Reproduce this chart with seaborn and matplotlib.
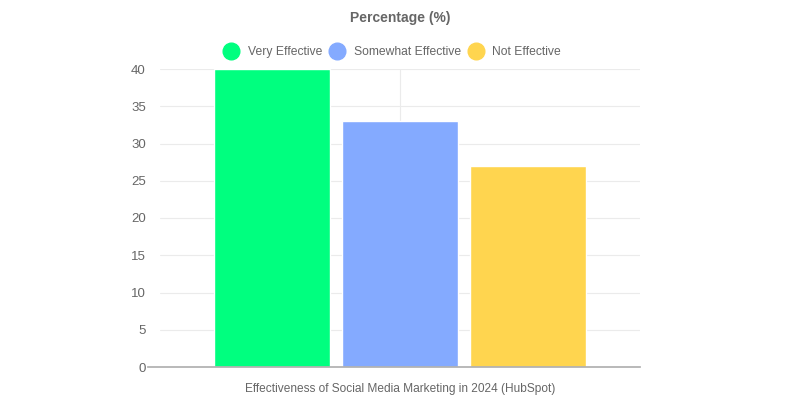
import numpy as np
import pandas as pd
import seaborn as sns
import matplotlib.pyplot as plt
from matplotlib.lines import Line2D

# chart data
category = "Effectiveness of Social Media Marketing in 2024 (HubSpot)"
series = ["Very Effective", "Somewhat Effective", "Not Effective"]
values = [40, 33, 27]
colors = ["#00ff7f", "#84aaff", "#ffd54f"]

df = pd.DataFrame({"cat": [category] * len(series), "series": series, "value": values})

sns.set_theme(style="white")
plt.rcParams['font.family'] = ['Liberation Sans', 'DejaVu Sans']

fig = plt.figure(figsize=(8, 4), dpi=100)
ax = fig.add_axes([0.2, 0.0825, 0.6, 0.745])

sns.barplot(data=df, x="cat", y="value", hue="series", palette=colors,
            width=0.8, gap=0.1, saturation=1, ax=ax, legend=False)

ax.set_xlim(-0.5, 0.5)
ax.set_ylim(0, 40)
ax.set_yticks(np.arange(0, 41, 5))
ax.grid(axis="both", color="#ebebeb", linewidth=0.8)
ax.set_axisbelow(True)
for s in ["top", "right", "left"]:
    ax.spines[s].set_visible(False)
ax.spines["bottom"].set_color("#b0b0b0")
ax.spines["bottom"].set_bounds(-0.525, 0.5)
ax.tick_params(axis="y", length=7.2, width=0.8, color="#ebebeb", pad=3,
               labelsize=9.5, labelcolor="#666666")
ax.tick_params(axis="x", length=7.2, width=0.8, color="#ebebeb", pad=4,
               labelsize=8.6, labelcolor="#666666")
ax.set_xlabel("")
ax.set_ylabel("")

fig.suptitle("Percentage (%)", y=0.972, fontsize=10, fontweight="bold", color="#666666")

handles = [Line2D([0], [0], marker="o", linestyle="", markersize=12,
                  markerfacecolor=c, markeredgecolor=c) for c in colors]
fig.legend(handles, series, loc="center", bbox_to_anchor=(0.49, 0.87), ncol=3,
           frameon=False, fontsize=8.7, labelcolor="#666666",
           handletextpad=0.7, columnspacing=0.5, handlelength=1.4)

fig.savefig("out.png", dpi=100)
